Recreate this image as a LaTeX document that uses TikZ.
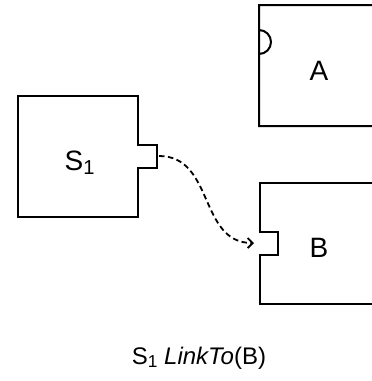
\documentclass[tikz,border=0pt]{standalone}
\usepackage{fontspec}
\setmainfont{Liberation Sans}
\usetikzlibrary{arrows.meta}
\newcommand{\labelfont}{\fontsize{28pt}{32pt}\selectfont}
\newcommand{\capfont}{\fontsize{24pt}{28pt}\selectfont}
\newcommand{\lowone}[1]{\raisebox{-0.16em}{\fontsize{0.72em}{0.72em}\selectfont #1}}
\begin{document}
\begin{tikzpicture}[x=1pt,y=-1pt,
  shapeline/.style={line width=2pt, line join=miter},
  lbl/.style={font=\labelfont, inner sep=0pt},
  caplbl/.style={font=\capfont, inner sep=0pt},
  link/.style={line width=1.8pt, dash pattern=on 5.5pt off 3.5pt, -{Straight Barb[length=5pt,width=10pt,line width=1.8pt]}}]
\useasboundingbox (0,0) rectangle (372,381);
% S1 box with tab
\draw[shapeline] (18,96) -- (138,96) -- (138,145) -- (157,145) -- (157,168) -- (138,168) -- (138,217) -- (18,217) -- cycle;
\node[lbl, anchor=base west] (s1) at (64.5,170) {S\lowone{1}};
% A box with round notch (open at right)
\draw[shapeline] (373,5) -- (259,5) -- (259,54) arc[start angle=90, end angle=-90, radius=12] -- (259,126) -- (373,126);
\node[lbl, anchor=base] (a) at (319,80) {A};
% B box with square notch
\draw[shapeline] (373,183) -- (260,183) -- (260,232) -- (278,232) -- (278,255) -- (260,255) -- (260,304) -- (373,304);
\node[lbl, anchor=base] (b) at (319,257) {B};
% connector
\coordinate (tab) at (159,156);
\coordinate (notch) at (254,243);
\draw[link] (tab) to[out=0,in=180,looseness=1.1] (notch);
% caption
\node[caplbl, anchor=base] (cap) at (199,364) {S\lowone{1} \textit{LinkTo}(B)};
\end{tikzpicture}
\end{document}
